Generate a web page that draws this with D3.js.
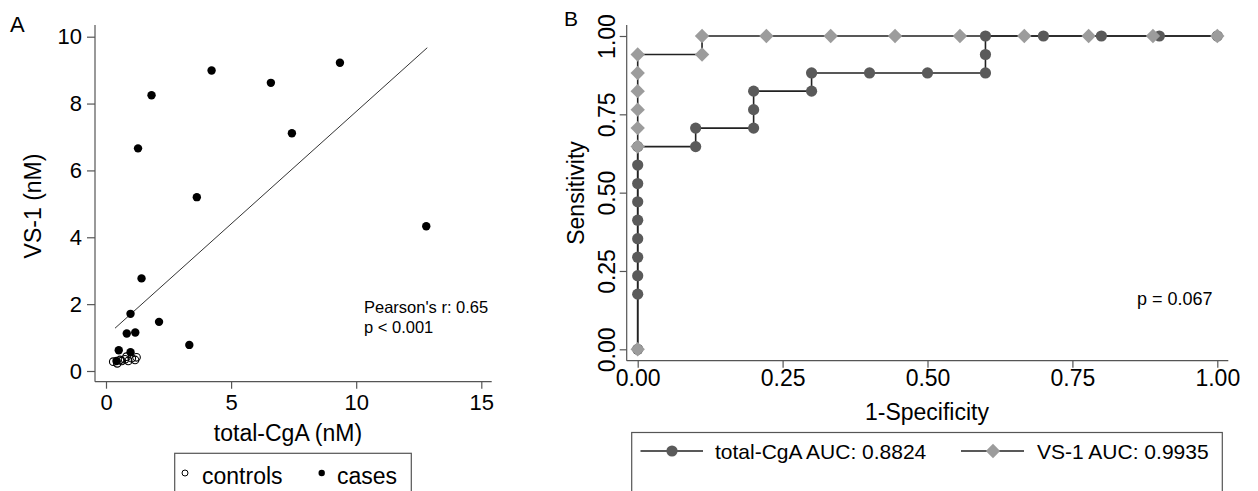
<!DOCTYPE html>
<html>
<head>
<meta charset="utf-8">
<script src="https://cdn.jsdelivr.net/npm/d3@7"></script>
<style>
body { margin: 0; background: #fff; }
svg { display: block; font-family: "Liberation Sans", Arial, Helvetica, sans-serif; }
</style>
</head>
<body>
<div id="chart"></div>
<script>
// panel A data: total-CgA vs VS-1 (nM)
var caseX = [4.22, 9.35, 6.59, 1.82, 7.43, 1.28, 3.63, 12.80, 1.42, 0.98, 2.12, 0.83, 1.17, 3.33, 0.51, 0.98, 0.42];
var caseY = [8.99, 9.22, 8.62, 8.25, 7.11, 6.66, 5.20, 4.33, 2.77, 1.71, 1.47, 1.12, 1.15, 0.78, 0.62, 0.56, 0.30];
var controlX = [0.29, 0.45, 0.63, 0.76, 0.89, 1.03, 1.16, 1.22, 0.56, 0.82];
var controlY = [0.28, 0.23, 0.30, 0.35, 0.30, 0.38, 0.33, 0.41, 0.33, 0.43];
// fitted line end points
var fitX = [0.36, 12.84];
var fitY = [1.28, 9.67];
var xTicksA = [0, 5, 10, 15];
var yTicksA = [0, 2, 4, 6, 8, 10];

// panel B data: ROC curves
var cgaX = [0, 0, 0, 0, 0, 0, 0, 0, 0, 0, 0.1, 0.1, 0.2, 0.2, 0.2, 0.3, 0.3, 0.4, 0.5, 0.6, 0.6, 0.6, 0.7, 0.8, 0.9, 1.0];
var cgaY = [0, 0.176, 0.235, 0.294, 0.353, 0.412, 0.471, 0.529, 0.588, 0.647, 0.647, 0.706, 0.706, 0.765, 0.824, 0.824, 0.882, 0.882, 0.882, 0.882, 0.941, 1, 1, 1, 1, 1];
var vs1X = [0, 0, 0, 0, 0, 0, 0, 0.111, 0.111, 0.222, 0.333, 0.444, 0.556, 0.667, 0.778, 0.889, 1];
var vs1Y = [0, 0.647, 0.706, 0.765, 0.824, 0.882, 0.941, 0.941, 1, 1, 1, 1, 1, 1, 1, 1, 1];
var rocTicks = [0, 0.25, 0.5, 0.75, 1];

var axisColor = '#555';
var lineColor = '#222';
var cgaColor = '#5a5a5a';
var vs1Color = '#9c9c9c';

var svg = d3.select('#chart')
    .append('svg')
    .attr('width', 1258)
    .attr('height', 491);

// ---------- panel A ----------
var xA = d3.scaleLinear().domain([0, 15]).range([106, 481.3]);
var yA = d3.scaleLinear().domain([0, 10]).range([371, 36.7]);
var axA = { left: 95, bottom: 381.7, top: 25, right: 491.7 };

var gA = svg.append('g');

var xAxisA = gA.append('g')
    .attr('transform', `translate(0, ${axA.bottom})`)
    .call(d3.axisBottom(xA).tickValues(xTicksA).tickSize(7).tickPadding(6));
var yAxisA = gA.append('g')
    .attr('transform', `translate(${axA.left}, 0)`)
    .call(d3.axisLeft(yA).tickValues(yTicksA).tickSize(8).tickPadding(5));

[xAxisA, yAxisA].forEach(function(ax) {
    ax.select('.domain').remove();
    ax.selectAll('line').attr('stroke', axisColor).attr('stroke-width', 1.2);
    ax.selectAll('text').attr('fill', '#000').style('font-size', '22px')
        .style('font-family', '"Liberation Sans", Arial, sans-serif');
});

gA.append('line')
    .attr('x1', axA.left).attr('x2', axA.left)
    .attr('y1', axA.top).attr('y2', axA.bottom)
    .attr('stroke', axisColor).attr('stroke-width', 1.2);
gA.append('line')
    .attr('x1', axA.left).attr('x2', axA.right)
    .attr('y1', axA.bottom).attr('y2', axA.bottom)
    .attr('stroke', axisColor).attr('stroke-width', 1.2);

// fitted line
gA.append('line')
    .attr('x1', xA(fitX[0])).attr('y1', yA(fitY[0]))
    .attr('x2', xA(fitX[1])).attr('y2', yA(fitY[1]))
    .attr('stroke', '#333').attr('stroke-width', 1);

// controls (open)
gA.selectAll('.ctrl')
    .data(controlX)
    .enter()
    .append('circle')
    .attr('class', 'ctrl')
    .attr('cx', d => xA(d))
    .attr('cy', (d, i) => yA(controlY[i]))
    .attr('r', 3.8)
    .attr('fill', 'none')
    .attr('stroke', '#000')
    .attr('stroke-width', 1.1);

// cases (filled)
gA.selectAll('.case')
    .data(caseX)
    .enter()
    .append('circle')
    .attr('class', 'case')
    .attr('cx', d => xA(d))
    .attr('cy', (d, i) => yA(caseY[i]))
    .attr('r', 4.2)
    .attr('fill', '#000');

gA.append('text')
    .attr('x', 364).attr('y', 313)
    .style('font-size', '16.5px')
    .text("Pearson's r: 0.65");
gA.append('text')
    .attr('x', 364).attr('y', 333)
    .style('font-size', '16.5px')
    .text('p < 0.001');

// axis titles
gA.append('text')
    .attr('x', 288).attr('y', 441)
    .attr('text-anchor', 'middle')
    .style('font-size', '23px')
    .text('total-CgA (nM)');
gA.append('text')
    .attr('transform', 'translate(41, 206) rotate(-90)')
    .attr('text-anchor', 'middle')
    .style('font-size', '23px')
    .text('VS-1 (nM)');

gA.append('text')
    .attr('x', 10).attr('y', 32)
    .style('font-size', '22px')
    .text('A');

// legend A
gA.append('rect')
    .attr('x', 174.7).attr('y', 453.3)
    .attr('width', 236.6).attr('height', 60)
    .attr('fill', 'none').attr('stroke', axisColor).attr('stroke-width', 1.2);
gA.append('circle')
    .attr('cx', 185).attr('cy', 473).attr('r', 3)
    .attr('fill', 'none').attr('stroke', '#000').attr('stroke-width', 1);
gA.append('text')
    .attr('x', 202).attr('y', 484)
    .style('font-size', '23px')
    .text('controls');
gA.append('circle')
    .attr('cx', 321.7).attr('cy', 473).attr('r', 3.2)
    .attr('fill', '#000');
gA.append('text')
    .attr('x', 337).attr('y', 484)
    .style('font-size', '23px')
    .text('cases');

// ---------- panel B ----------
var xB = d3.scaleLinear().domain([0, 1]).range([637.7, 1217.3]);
var yB = d3.scaleLinear().domain([0, 1]).range([349.3, 36]);
var axB = { left: 626.7, bottom: 360.7, top: 25, right: 1228.3 };

var gB = svg.append('g');

var xAxisB = gB.append('g')
    .attr('transform', `translate(0, ${axB.bottom})`)
    .call(d3.axisBottom(xB).tickValues(rocTicks).tickFormat(d3.format('.2f')).tickSize(7).tickPadding(1.5));
var yAxisB = gB.append('g')
    .attr('transform', `translate(${axB.left}, 0)`)
    .call(d3.axisLeft(yB).tickValues(rocTicks).tickFormat(d3.format('.2f')).tickSize(7));

[xAxisB, yAxisB].forEach(function(ax) {
    ax.select('.domain').remove();
    ax.selectAll('line').attr('stroke', axisColor).attr('stroke-width', 1.2);
    ax.selectAll('text').attr('fill', '#000').style('font-size', '23px')
        .style('font-family', '"Liberation Sans", Arial, sans-serif');
});
// rotate y tick labels
yAxisB.selectAll('text')
    .attr('x', null).attr('dy', null)
    .attr('text-anchor', 'middle')
    .attr('transform', 'translate(-12, 0) rotate(-90)');

gB.append('line')
    .attr('x1', axB.left).attr('x2', axB.left)
    .attr('y1', axB.top).attr('y2', axB.bottom)
    .attr('stroke', axisColor).attr('stroke-width', 1.2);
gB.append('line')
    .attr('x1', axB.left).attr('x2', axB.right)
    .attr('y1', axB.bottom).attr('y2', axB.bottom)
    .attr('stroke', axisColor).attr('stroke-width', 1.2);

var rocLine = d3.line()
    .x(d => xB(d[0]))
    .y(d => yB(d[1]));

var cgaPts = cgaX.map((x, i) => [x, cgaY[i]]);
var vs1Pts = vs1X.map((x, i) => [x, vs1Y[i]]);

gB.append('path')
    .datum(cgaPts)
    .attr('d', rocLine)
    .attr('fill', 'none')
    .attr('stroke', lineColor)
    .attr('stroke-width', 1.6);
gB.append('path')
    .datum(vs1Pts)
    .attr('d', rocLine)
    .attr('fill', 'none')
    .attr('stroke', lineColor)
    .attr('stroke-width', 1.6);

gB.selectAll('.cga')
    .data(cgaPts)
    .enter()
    .append('circle')
    .attr('class', 'cga')
    .attr('cx', d => xB(d[0]))
    .attr('cy', d => yB(d[1]))
    .attr('r', 5.6)
    .attr('fill', cgaColor);

// diamond marker, half-diagonal h
var h = 7.2;
var diamond = `M0,${-h}L${h},0L0,${h}L${-h},0Z`;

gB.selectAll('.vs1')
    .data(vs1Pts)
    .enter()
    .append('path')
    .attr('class', 'vs1')
    .attr('transform', d => `translate(${xB(d[0])}, ${yB(d[1])})`)
    .attr('d', diamond)
    .attr('fill', vs1Color);

gB.append('text')
    .attr('x', 1137).attr('y', 305)
    .style('font-size', '18px')
    .text('p = 0.067');

gB.append('text')
    .attr('x', 927).attr('y', 420)
    .attr('text-anchor', 'middle')
    .style('font-size', '23px')
    .text('1-Specificity');
gB.append('text')
    .attr('transform', 'translate(584, 193) rotate(-90)')
    .attr('text-anchor', 'middle')
    .style('font-size', '23px')
    .text('Sensitivity');

gB.append('text')
    .attr('x', 564).attr('y', 26)
    .style('font-size', '21px')
    .text('B');

// legend B
gB.append('rect')
    .attr('x', 631.7).attr('y', 432.5)
    .attr('width', 590.6).attr('height', 80)
    .attr('fill', 'none').attr('stroke', axisColor).attr('stroke-width', 1.2);

gB.append('line')
    .attr('x1', 640.5).attr('x2', 703).attr('y1', 451).attr('y2', 451)
    .attr('stroke', lineColor).attr('stroke-width', 1.6);
gB.append('circle')
    .attr('cx', 672).attr('cy', 451).attr('r', 5.6)
    .attr('fill', cgaColor);
gB.append('text')
    .attr('x', 715).attr('y', 459)
    .style('font-size', '21px')
    .text('total-CgA AUC: 0.8824');

gB.append('line')
    .attr('x1', 961).attr('x2', 1024).attr('y1', 451).attr('y2', 451)
    .attr('stroke', lineColor).attr('stroke-width', 1.6);
gB.append('path')
    .attr('transform', 'translate(993, 451)')
    .attr('d', diamond)
    .attr('fill', vs1Color);
gB.append('text')
    .attr('x', 1037).attr('y', 459)
    .style('font-size', '21px')
    .text('VS-1 AUC: 0.9935');
</script>
</body>
</html>
